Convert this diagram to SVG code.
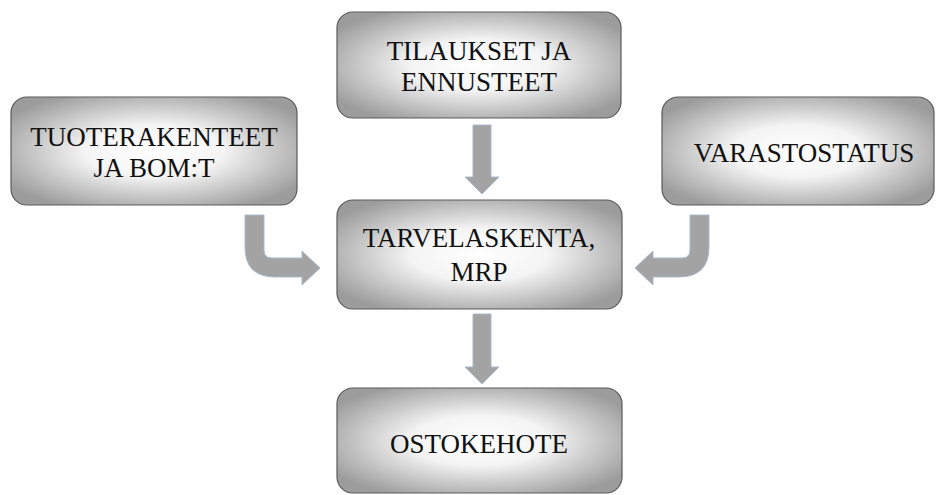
<svg xmlns="http://www.w3.org/2000/svg" width="937" height="495" viewBox="0 0 937 495">
<defs>
<radialGradient id="g" cx="0.5" cy="0.5" r="0.6">
<stop offset="0" stop-color="#ffffff"/>
<stop offset="0.4" stop-color="#f4f4f4"/>
<stop offset="1" stop-color="#9c9c9c"/>
</radialGradient>
</defs>
<style>
.box{fill:url(#g);stroke:#5a5a5a;stroke-width:1.2}
.t{font-size:27px;fill:#111;text-anchor:middle}
.arr{fill:#a3a3a3;stroke:#a9b9cc;stroke-width:1}
</style>
<rect width="937" height="495" fill="#ffffff"/>
<g id="connectors">
<path class="arr" d="M473,125 H491 V177 H499 L482,194 L465,177 H473 Z"/>
<path class="arr" d="M473,314 H491 V367 H499 L482,384 L465,367 H473 Z"/>
<path class="arr" d="M245,215 H264 V250 Q264,258 272,258 H302 V251 L320,268 L302,285 V277 H275 Q245,277 245,247 Z"/>
<path class="arr" d="M709,215 H690 V250 Q690,258 682,258 H653 V251 L635,268 L653,285 V277 H679 Q709,277 709,247 Z"/>
</g>
<g font-family="'Liberation Serif', 'Times New Roman', serif">
<g id="tilaukset">
<rect class="box" x="337" y="12" width="284" height="106" rx="16"/>
<text class="t" x="479" y="60">TILAUKSET JA</text>
<text class="t" x="479" y="91">ENNUSTEET</text>
</g>
<g id="tuoterakenteet">
<rect class="box" x="11" y="97" width="286" height="108" rx="16"/>
<text class="t" x="154" y="146">TUOTERAKENTEET</text>
<text class="t" x="154" y="177">JA BOM:T</text>
</g>
<g id="varastostatus">
<rect class="box" x="662" y="97" width="272" height="108" rx="16"/>
<text class="t" x="804" y="162">VARASTOSTATUS</text>
</g>
<g id="tarvelaskenta">
<rect class="box" x="337" y="200" width="285" height="109" rx="16"/>
<text class="t" x="479" y="247">TARVELASKENTA,</text>
<text class="t" x="479" y="281">MRP</text>
</g>
<g id="ostokehote">
<rect class="box" x="337" y="388" width="285" height="105" rx="16"/>
<text class="t" x="479" y="453">OSTOKEHOTE</text>
</g>
</g>
</svg>
